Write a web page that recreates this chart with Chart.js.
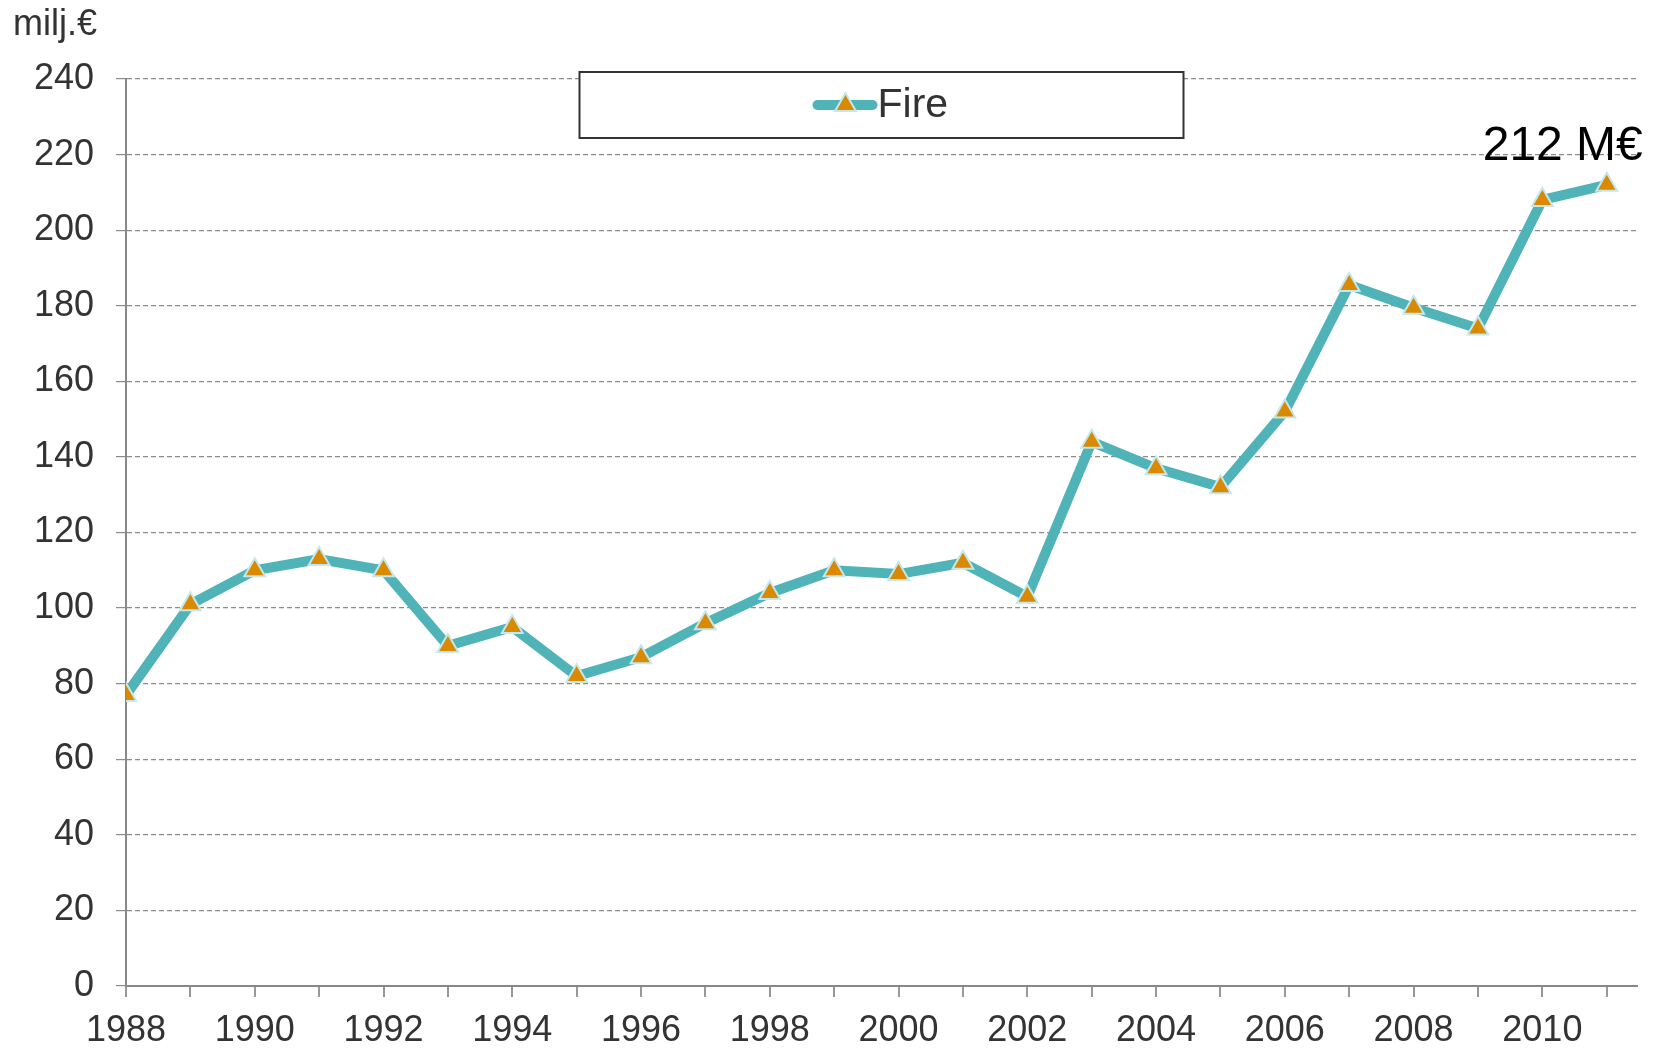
<!DOCTYPE html>
<html>
<head>
<meta charset="utf-8">
<script src="https://cdn.jsdelivr.net/npm/chart.js@4"></script>
<style>
  html, body { margin: 0; padding: 0; background: #fff; }
  #wrap { width: 1656px; height: 1048px; position: relative; }
</style>
</head>
<body>
<div id="wrap"><canvas id="fireChart"></canvas></div>
<script>
// data
const years = [1988, 1989, 1990, 1991, 1992, 1993, 1994, 1995, 1996, 1997, 1998, 1999,
               2000, 2001, 2002, 2003, 2004, 2005, 2006, 2007, 2008, 2009, 2010, 2011];
const fireValues = [77, 101, 110, 113, 110, 90, 95, 82, 87, 96, 104, 110,
                    109, 112, 103, 144, 137, 132, 152, 185.5, 179.5, 174, 208, 212];
const yTicks = [0, 20, 40, 60, 80, 100, 120, 140, 160, 180, 200, 220, 240];
const seriesName = 'Fire';
const unitLabel = 'milj.€';
const endLabel = '212 M€';

const FONT = "'Liberation Sans', Arial, sans-serif";
const TEXT = '#333333';

// legend box inside plot + unit label + end annotation
const extrasPlugin = {
    id: 'extras',
    afterDraw(chart) {
        const ctx = chart.ctx;
        const area = chart.chartArea;
        ctx.save();

        // unit label top left
        ctx.fillStyle = TEXT;
        ctx.font = '36px ' + FONT;
        ctx.textBaseline = 'middle';
        ctx.textAlign = 'left';
        ctx.fillText(unitLabel, 13, 25);

        // legend box
        const ds = chart.data.datasets[0];
        const cx = (area.left + area.right) / 2;
        const bw = 604, bh = 66;
        const bx = cx - bw / 2, by = area.top - 7;
        ctx.fillStyle = '#ffffff';
        ctx.fillRect(bx, by, bw, bh);
        ctx.strokeStyle = '#333333';
        ctx.lineWidth = 2;
        ctx.strokeRect(bx, by, bw, bh);

        const my = by + bh / 2;
        ctx.strokeStyle = ds.borderColor;
        ctx.lineWidth = 10;
        ctx.lineCap = 'round';
        ctx.beginPath();
        ctx.moveTo(cx - 64, my);
        ctx.lineTo(cx - 9, my);
        ctx.stroke();
        // triangle marker
        const r = 12;
        const tx = cx - 36;
        ctx.beginPath();
        ctx.moveTo(tx, my - r);
        ctx.lineTo(tx + r * 0.87, my + r * 0.5);
        ctx.lineTo(tx - r * 0.87, my + r * 0.5);
        ctx.closePath();
        ctx.fillStyle = ds.pointBackgroundColor;
        ctx.fill();
        ctx.strokeStyle = ds.pointBorderColor;
        ctx.lineWidth = 2;
        ctx.stroke();

        ctx.fillStyle = TEXT;
        ctx.font = '41px ' + FONT;
        ctx.textAlign = 'left';
        ctx.fillText(ds.label, cx - 4, my + 1);

        // end value annotation
        const meta = chart.getDatasetMeta(0);
        const last = meta.data[meta.data.length - 1];
        ctx.fillStyle = '#000000';
        ctx.font = '48px ' + FONT;
        ctx.textAlign = 'center';
        ctx.fillText(endLabel, last.x - 44, last.y - 38);

        ctx.restore();
    }
};

const points = years.map((y, i) => ({ x: y, y: fireValues[i] }));

new Chart(document.getElementById('fireChart'), {
    type: 'line',
    data: {
        datasets: [{
            label: seriesName,
            data: points,
            borderColor: '#4fb3b8',
            borderWidth: 10,
            pointStyle: 'triangle',
            pointRadius: 12,
            pointBackgroundColor: '#d98a00',
            pointBorderColor: '#c4e8ec',
            pointBorderWidth: 2,
            tension: 0
        }]
    },
    options: {
        responsive: true,
        maintainAspectRatio: false,
        animation: false,
        layout: { padding: { top: 79, right: 19, left: 0, bottom: 0 } },
        plugins: {
            legend: { display: false },
            tooltip: { enabled: false }
        },
        scales: {
            x: {
                type: 'linear',
                min: years[0],
                max: years[years.length - 1] + 0.47,
                afterFit(scale) { scale.height = 62; },
                border: { color: '#888888', width: 2 },
                grid: { drawOnChartArea: false, drawTicks: true, tickLength: 11, color: '#999999', lineWidth: 2 },
                ticks: {
                    stepSize: 1,
                    includeBounds: false,
                    autoSkip: false,
                    maxRotation: 0,
                    padding: 12,
                    color: TEXT,
                    font: { size: 36, family: FONT },
                    callback: (v) => (v % 2 === 0 ? String(v) : '')
                }
            },
            y: {
                min: yTicks[0],
                max: yTicks[yTicks.length - 1],
                afterFit(scale) { scale.width = 126; },
                afterBuildTicks(scale) { scale.ticks = yTicks.map(v => ({ value: v })); },
                border: { color: '#888888', width: 2, dash: [5, 3] },
                grid: { color: '#8c8c8c', lineWidth: 1.2, tickLength: 10, tickBorderDash: [0, 0], drawTicks: true },
                ticks: {
                    padding: 22,
                    color: TEXT,
                    font: { size: 36, family: FONT }
                }
            }
        }
    },
    plugins: [extrasPlugin]
});
</script>
</body>
</html>
